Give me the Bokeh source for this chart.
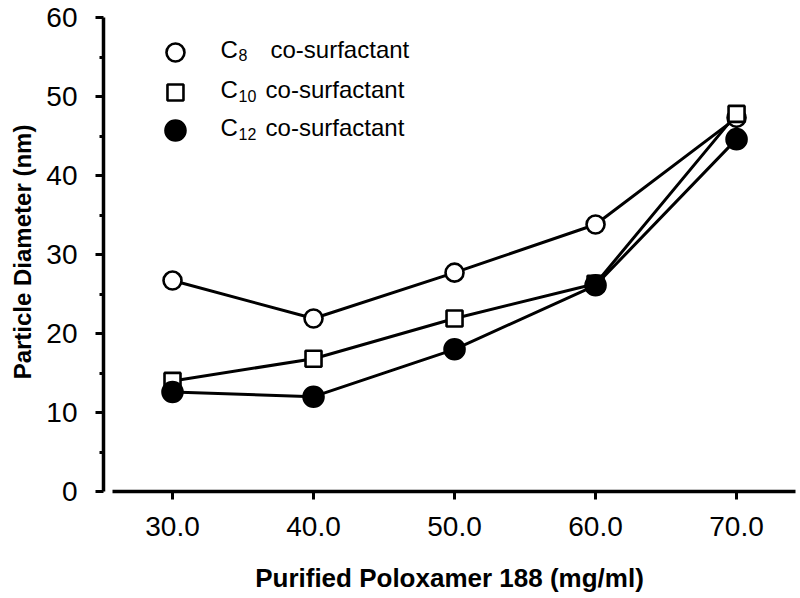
from bokeh.plotting import figure
from bokeh.models import Range1d, FixedTicker, NumeralTickFormatter
from bokeh.core.properties import value
from bokeh.embed import file_html
from bokeh.resources import INLINE

# ---- data ----
concentration = [30.0, 40.0, 50.0, 60.0, 70.0]
c8 = [26.7, 21.9, 27.7, 33.8, 47.3]
c10 = [14.0, 16.8, 21.9, 26.3, 47.8]
c12 = [12.6, 12.0, 18.0, 26.1, 44.6]
legend_main = ["C", "C", "C"]
legend_sub = ["8", "10", "12"]
legend_tail = ["co-surfactant", "co-surfactant", "co-surfactant"]
x_ticks = [30, 40, 50, 60, 70]
y_ticks = [0, 10, 20, 30, 40, 50, 60]
y_minor = [5, 15, 25, 35, 45, 55]

FONT = "Liberation Sans"

p = figure(width=798, height=596, output_backend="svg", toolbar_location=None,
           x_range=Range1d(25.106, 74.18), y_range=Range1d(0, 60.633),
           min_border_left=103, min_border_right=3, min_border_top=12, min_border_bottom=105)
p.outline_line_color = None
p.grid.visible = False
p.background_fill_color = "white"

styles = [
    dict(marker="circle", size=18, fill_color="white"),
    dict(marker="square", size=16, fill_color="white"),
    dict(marker="circle", size=20, fill_color="black"),
]
series = [c8, c10, c12]

for ys, st in zip(series, styles):
    p.line(concentration, ys, line_color="black", line_width=3)
    p.scatter(concentration, ys, marker=st["marker"], size=st["size"],
              fill_color=st["fill_color"], line_color="black", line_width=2.6)

# ---- legend (drawn manually to allow subscripts) ----
leg_marker_x = 30.21
leg_marker_y = [55.57, 50.51, 45.70]
for yy, st in zip(leg_marker_y, styles):
    p.scatter([leg_marker_x], [yy], marker=st["marker"], size=st["size"],
              fill_color=st["fill_color"], line_color="black", line_width=2.6)

leg_base_y = [55.95, 50.88, 46.07]
leg_sub_y = [55.19, 50.12, 45.31]
p.text(x=[33.40] * 3, y=leg_base_y, text=legend_main, text_font=value(FONT),
       text_font_size="24px", text_align="left", text_baseline="alphabetic", text_color="black")
p.text(x=[34.68] * 3, y=leg_sub_y, text=legend_sub, text_font=value(FONT),
       text_font_size="16px", text_align="left", text_baseline="alphabetic", text_color="black")
p.text(x=[36.95, 36.60, 36.60], y=leg_base_y, text=legend_tail, text_font=value(FONT),
       text_font_size="24px", text_align="left", text_baseline="alphabetic", text_color="black")

# ---- axes ----
xa = p.xaxis[0]
xa.ticker = FixedTicker(ticks=x_ticks)
xa.formatter = NumeralTickFormatter(format="0.0")
xa.bounds = (25.745, 74.18)
xa.axis_line_width = 3.5
xa.axis_line_color = "black"
xa.major_tick_line_width = 3
xa.major_tick_line_color = "black"
xa.major_tick_out = 8
xa.major_tick_in = 0
xa.minor_tick_line_color = None
xa.major_label_text_font = FONT
xa.major_label_text_font_size = "28px"
xa.major_label_text_color = "black"
xa.major_label_standoff = 17
xa.axis_label = "Purified Poloxamer 188 (mg/ml)"
xa.axis_label_text_font = FONT
xa.axis_label_text_font_style = "bold"
xa.axis_label_text_font_size = "26px"
xa.axis_label_text_color = "black"
xa.axis_label_standoff = 24

ya = p.yaxis[0]
ya.ticker = FixedTicker(ticks=y_ticks, minor_ticks=y_minor)
ya.bounds = (0, 60)
ya.axis_line_width = 3.5
ya.axis_line_color = "black"
ya.major_tick_line_width = 3
ya.major_tick_line_color = "black"
ya.major_tick_out = 8
ya.major_tick_in = 0
ya.minor_tick_line_width = 3
ya.minor_tick_line_color = "black"
ya.minor_tick_out = 4
ya.minor_tick_in = 0
ya.major_label_text_font = FONT
ya.major_label_text_font_size = "28px"
ya.major_label_text_color = "black"
ya.major_label_standoff = 18
ya.axis_label = "Particle Diameter (nm)"
ya.axis_label_text_font = FONT
ya.axis_label_text_font_style = "bold"
ya.axis_label_text_font_size = "24px"
ya.axis_label_text_color = "black"
ya.axis_label_standoff = 7

open("out.html", "w").write(file_html(p, INLINE))
